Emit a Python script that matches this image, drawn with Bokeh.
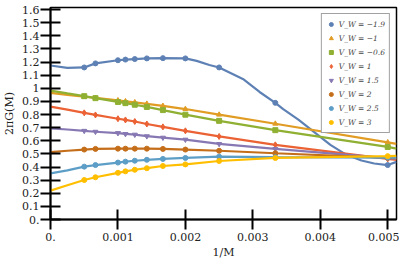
from bokeh.plotting import figure
from bokeh.models import FixedTicker, Legend, LegendItem, Range1d
from bokeh.embed import file_html
from bokeh.resources import INLINE

# system sizes M (markers at 1/M)
M = [2000, 1500, 1000, 900, 800, 700, 600, 500, 400, 300, 200]
vw_labels = ["−1.9", "−1", "−0.6", "1", "1.5", "2", "2.5", "3"]

g_m19 = [1.159, 1.190, 1.214, 1.219, 1.223, 1.228, 1.230, 1.228, 1.159, 0.889, 0.415]
g_m1 = [0.936, 0.927, 0.908, 0.901, 0.893, 0.882, 0.866, 0.842, 0.799, 0.730, 0.588]
g_m06 = [0.940, 0.925, 0.896, 0.887, 0.875, 0.858, 0.834, 0.799, 0.752, 0.681, 0.553]
g_1 = [0.813, 0.797, 0.768, 0.759, 0.747, 0.728, 0.706, 0.676, 0.633, 0.569, 0.462]
g_15 = [0.676, 0.669, 0.659, 0.652, 0.647, 0.635, 0.624, 0.609, 0.576, 0.538, 0.468]
g_2 = [0.533, 0.538, 0.540, 0.540, 0.540, 0.540, 0.538, 0.533, 0.524, 0.505, 0.470]
g_25 = [0.403, 0.415, 0.434, 0.441, 0.448, 0.455, 0.462, 0.469, 0.479, 0.475, 0.472]
g_3 = [0.301, 0.322, 0.356, 0.367, 0.379, 0.391, 0.408, 0.420, 0.446, 0.469, 0.483]

# fitted curve: values read at 1/M = 0, 0.00025 and at the right edge
fit_head_x = [0.0, 0.00025]
fit_tail_x = [0.00513]
fit_start = [1.174, 0.965, 0.983, 0.861, 0.695, 0.514, 0.351, 0.220]
fit_quarter = [1.156, 0.950, 0.961, 0.837, 0.686, 0.524, 0.375, 0.261]
fit_end = [0.439, 0.577, 0.540, 0.455, 0.463, 0.468, 0.472, 0.485]
# extra points of the strongly curved V_W = -1.9 fit
blue_extra_x = [0.002167, 0.002356, 0.002867, 0.0031, 0.00345, 0.00368,
                0.003915, 0.00415, 0.00437, 0.00461, 0.0048]
blue_extra_y = [1.209, 1.178, 1.067, 0.972, 0.841, 0.759,
                0.664, 0.569, 0.498, 0.450, 0.427]

series = [g_m19, g_m1, g_m06, g_1, g_15, g_2, g_25, g_3]
colors = ["#5E81B5", "#E19C24", "#8FB032", "#EB6235",
          "#8778B3", "#C56E1A", "#5D9EC7", "#FFBF00"]
markers = ["circle", "triangle", "square", "diamond",
           "inverted_triangle", "circle", "circle", "circle"]

x_ticks = [0, 0.001, 0.002, 0.003, 0.004, 0.005]
x_tick_labels = ["0.", "0.001", "0.002", "0.003", "0.004", "0.005"]
y_ticks = [0, 0.1, 0.2, 0.3, 0.4, 0.5, 0.6, 0.7, 0.8, 0.9, 1, 1.1, 1.2, 1.3, 1.4, 1.5, 1.6]
y_tick_labels = ["0.", "0.1", "0.2", "0.3", "0.4", "0.5", "0.6", "0.7", "0.8", "0.9",
                 "1", "1.1", "1.2", "1.3", "1.4", "1.5", "1.6"]

FONT = "DejaVu Serif"

p = figure(width=399, height=261, output_backend="svg", toolbar_location=None,
           x_range=Range1d(0, 0.00513), y_range=Range1d(0, 1.616),
           min_border_left=2, min_border_right=3, min_border_top=7, min_border_bottom=2,
           x_axis_label="1/M", y_axis_label="2πG(M)")
p.grid.visible = False
p.outline_line_color = "black"
p.outline_line_width = 1.5
p.background_fill_color = "white"

inv = [1.0 / m for m in M]

items = []
for i, (vals, col, mk) in enumerate(zip(series, colors, markers)):
    fx = fit_head_x + inv + fit_tail_x
    fy = [fit_start[i], fit_quarter[i]] + vals + [fit_end[i]]
    if i == 0:
        fx = fx + blue_extra_x
        fy = fy + blue_extra_y
    pts = sorted(zip(fx, fy))
    p.line([a for a, b in pts], [b for a, b in pts], line_color=col, line_width=2.2)
    size = 5 if mk != "diamond" else 6
    r = p.scatter(inv, vals, marker=mk, size=size, fill_color=col, line_color=col)
    items.append(LegendItem(label="V_W = " + vw_labels[i], renderers=[r]))

legend = Legend(items=items, location="top_right")
legend.label_text_font = FONT
legend.label_text_font_size = "7.5px"
legend.label_text_font_style = "italic"
legend.label_height = 12
legend.glyph_height = 12
legend.glyph_width = 10
legend.spacing = 2
legend.padding = 4
legend.margin = 6
legend.label_standoff = 3
legend.border_line_color = "#444444"
legend.border_line_width = 1
legend.background_fill_alpha = 1.0
p.add_layout(legend)

for ax in (p.xaxis[0], p.yaxis[0]):
    ax.axis_line_width = 2
    ax.axis_line_color = "black"
    ax.major_tick_in = 10
    ax.major_tick_out = 10
    ax.major_tick_line_width = 2
    ax.major_tick_line_color = "black"
    ax.minor_tick_line_color = None
    ax.major_label_text_font = FONT
    ax.major_label_text_font_size = "11px"
    ax.major_label_text_color = "#222222"
    ax.axis_label_text_font = FONT
    ax.axis_label_text_font_size = "11px"
    ax.axis_label_text_font_style = "normal"
    ax.axis_label_text_color = "#222222"

p.xaxis.ticker = FixedTicker(ticks=x_ticks)
p.xaxis.major_label_overrides = dict(zip(x_ticks, x_tick_labels))
p.xaxis.major_label_standoff = 3
p.xaxis.axis_label_standoff = 2
p.yaxis.ticker = FixedTicker(ticks=y_ticks)
p.yaxis.major_label_overrides = dict(zip(y_ticks, y_tick_labels))
p.yaxis.major_label_standoff = 1
p.yaxis.axis_label_standoff = 3

open("out.html", "w").write(file_html(p, INLINE))
